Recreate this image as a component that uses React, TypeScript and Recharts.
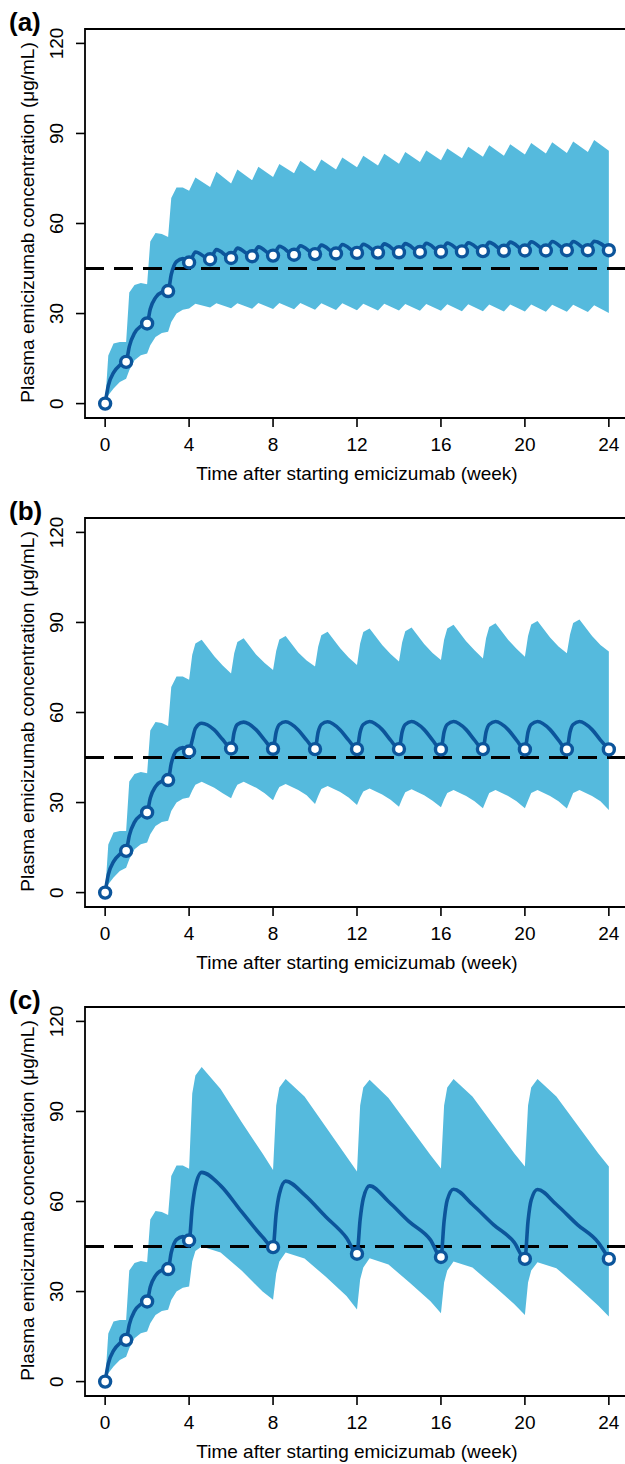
import { ComposedChart, Area, Line, XAxis, YAxis, ReferenceLine, ReferenceArea } from 'recharts';

// loading phase (3 mg/kg QW, weeks 0-4), same in all three panels
const loadWeeks = [0, 0.15, 0.4, 0.7, 1, 1.15, 1.4, 1.7, 2, 2.15, 2.4, 2.7, 3, 3.15, 3.4, 3.7, 4];
const loadUpper = [0, 16, 20, 20.5, 20.5, 37, 39.5, 40.2, 39.8, 54, 56.8, 56.5, 55.5, 68.5, 72, 72, 70.9];
const loadLower = [0, 2.8, 5, 7.2, 8.3, 11.1, 14.4, 16.1, 16.7, 19.4, 22.2, 23.5, 23.9, 27.2, 30, 31.3, 31.7];
const loadMedian = [0, 6, 10.3, 12.8, 13.9, 19, 23.5, 25.8, 26.7, 31.5, 35.3, 37.1, 37.5, 43, 47.3, 48.3, 47];

// (a) 1.5 mg/kg QW
const aWeeks = [4.3, 5, 5.3, 6, 6.3, 7, 7.3, 8, 8.3, 9, 9.3, 10, 10.3, 11, 11.3, 12, 12.3, 13, 13.3, 14, 14.3, 15, 15.3, 16, 16.3, 17, 17.3, 18, 18.3, 19, 19.3, 20, 20.3, 21, 21.3, 22, 22.3, 23, 23.3, 24];
const aUpper = [75.3, 72.2, 77.2, 73.3, 78, 74.4, 78.9, 75.5, 79.8, 76.7, 80.9, 77.4, 81.3, 78, 82, 78.7, 82.6, 79.3, 83.2, 79.9, 83.8, 80.5, 84.3, 81.1, 85, 81.7, 85.6, 82.2, 86.1, 82.6, 86.4, 83, 86.8, 83.3, 87.1, 83.5, 87.3, 83.8, 87.8, 84.2];
const aLower = [33.3, 32, 33.4, 31.8, 33.4, 31.6, 33.5, 31.5, 33.5, 31.4, 33.5, 31.3, 33.4, 31.2, 33.4, 31.1, 33.3, 31, 33.3, 31, 33.2, 30.9, 33.2, 30.9, 33.1, 30.8, 33.1, 30.8, 33, 30.7, 33, 30.7, 33, 30.6, 32.9, 30.6, 32.9, 30.5, 32.8, 30.2];
const aMedian = [50.5, 48.1, 51.3, 48.5, 51.8, 49.1, 52.2, 49.3, 52.4, 49.6, 52.6, 49.8, 52.8, 50, 53, 50.2, 53.1, 50.3, 53.2, 50.4, 53.3, 50.5, 53.4, 50.6, 53.5, 50.7, 53.6, 50.8, 53.7, 50.9, 53.8, 51, 53.9, 51, 54, 51.1, 54, 51.1, 54.1, 51.1];
const aMarks = [0, 1, 2, 3, 4, 5, 6, 7, 8, 9, 10, 11, 12, 13, 14, 15, 16, 17, 18, 19, 20, 21, 22, 23, 24];

// (b) 3 mg/kg Q2W
const bWeeks = [
  4.15, 4.3, 4.6, 5.2, 5.6, 6, 6.15, 6.3, 6.6, 7.2, 7.6, 8, 8.15, 8.3, 8.6, 9.2, 9.6, 10,
  10.15, 10.3, 10.6, 11.2, 11.6, 12, 12.15, 12.3, 12.6, 13.2, 13.6, 14, 14.15, 14.3, 14.6, 15.2, 15.6, 16,
  16.15, 16.3, 16.6, 17.2, 17.6, 18, 18.15, 18.3, 18.6, 19.2, 19.6, 20, 20.15, 20.3, 20.6, 21.2, 21.6, 22,
  22.15, 22.3, 22.6, 23.2, 23.6, 24,
];
const bUpper = [
  79.2, 83, 84.2, 78.7, 75.7, 73, 79.7, 83.5, 84.7, 79.2, 76.5, 74.2, 80.5, 84.3, 85.5, 80, 77.3, 75.3,
  81.9, 85.7, 86.9, 81.4, 78.3, 75.8, 83, 86.8, 88, 82.5, 79.5, 77, 83.3, 87.1, 88.3, 82.8, 79.8, 77.5,
  84.2, 88, 89.2, 83.7, 80.7, 78, 84.7, 88.5, 89.7, 84.2, 81.2, 78.6, 85.5, 89.3, 90.5, 85, 82, 79.7,
  86, 89.8, 91, 85.5, 82.5, 80.3,
];
const bLower = [
  34, 35.9, 36.9, 34.9, 33.1, 31.4, 33.9, 35.9, 36.9, 34.9, 33.1, 30.8, 33.2, 35.2, 36.2, 34.2, 32.4, 29.5,
  32.2, 34.5, 35.5, 33.5, 31.7, 29.2, 31.7, 33.7, 34.7, 32.7, 30.9, 28.6, 31.2, 33.4, 34.4, 32.4, 30.6, 28.4,
  31, 33.2, 34.2, 32.2, 30.4, 28.1, 30.7, 33.2, 34.2, 32.2, 30.4, 28.1, 30.7, 33.2, 34.2, 32.2, 30.4, 28,
  30.6, 33.2, 34.2, 32.2, 30.4, 27.5,
];
const bMedian = [
  50.8, 54.7, 56.4, 54.2, 51, 48, 53.5, 56, 56.8, 54.2, 50.8, 47.9, 53.5, 56, 56.9, 54.2, 50.8, 47.8,
  53.5, 56, 56.9, 54.2, 50.8, 47.8, 53.5, 56, 57, 54.3, 50.8, 47.8, 53.5, 56, 57, 54.3, 50.8, 47.7,
  53.5, 56, 57, 54.3, 50.8, 47.8, 53.5, 56, 57, 54.3, 50.8, 47.7, 53.5, 56, 57, 54.3, 50.8, 47.7,
  53.5, 56, 57, 54.3, 50.8, 47.7,
];
const bMarks = [0, 1, 2, 3, 4, 6, 8, 10, 12, 14, 16, 18, 20, 22, 24];

// (c) 6 mg/kg Q4W
const cWeeks = [
  4.15, 4.3, 4.6, 5.5, 6.5, 7.5, 8, 8.15, 8.3, 8.6, 9.5, 10.5, 11.5, 12, 12.15, 12.3, 12.6, 13.5, 14.5, 15.5, 16,
  16.15, 16.3, 16.6, 17.5, 18.5, 19.5, 20, 20.15, 20.3, 20.6, 21.5, 22.5, 23.5, 24,
];
const cUpper = [
  96, 102, 104.8, 97.5, 86.5, 76, 70.5, 92, 98, 100.8, 95, 85, 75, 70, 92, 98, 100.6, 94.5, 85, 75.5, 71,
  92, 98, 100.8, 95, 85.5, 76, 71.7, 92, 98, 100.8, 95, 85.5, 76, 71.7,
];
const cLower = [
  40, 43.5, 45, 43, 37, 30, 27.3, 36, 40, 43, 41, 35, 28.5, 24, 34, 38, 41.1, 39, 33, 26.8, 22.8,
  33, 37, 40, 38, 32, 25.8, 22.2, 33, 37, 39.8, 37.8, 31.7, 25.3, 21.7,
];
const cMedian = [
  58, 65, 69.7, 65.3, 56.6, 48.2, 44.8, 56, 62.5, 66.8, 62.2, 55, 47.9, 42.6, 54, 61, 65.2, 60, 53.2, 47.2, 41.5,
  53.5, 60.5, 64.1, 59, 52.3, 46.3, 40.9, 53.5, 60.5, 64, 59, 52.3, 46.3, 40.9,
];
const cMarks = [0, 1, 2, 3, 4, 8, 12, 16, 20, 24];

const weekTicks = [0, 4, 8, 12, 16, 20, 24];
const concTicks = [0, 30, 60, 90, 120];
const target = 45;

const BAND = '#55badd';
const LINE = '#0c559b';
const FONT = '"Liberation Sans", Arial, sans-serif';

function buildRows(weeks: number[], lower: number[], upper: number[], median: number[]) {
  const w = [...loadWeeks, ...weeks];
  const lo = [...loadLower, ...lower];
  const hi = [...loadUpper, ...upper];
  const md = [...loadMedian, ...median];
  return w.map((week, i) => ({ week, band: [lo[i], hi[i]], median: md[i] }));
}

const panels = [
  { tag: '(a)', rows: buildRows(aWeeks, aLower, aUpper, aMedian), marks: aMarks },
  { tag: '(b)', rows: buildRows(bWeeks, bLower, bUpper, bMedian), marks: bMarks },
  { tag: '(c)', rows: buildRows(cWeeks, cLower, cUpper, cMedian), marks: cMarks },
];

const YTick = (props: any) => {
  const { x, y, payload } = props;
  const bx = x - 11;
  return (
    <text x={bx} y={y} transform={`rotate(-90, ${bx}, ${y})`} textAnchor="middle" fontSize={19} fill="#000" fontFamily={FONT}>
      {payload.value}
    </text>
  );
};

function Panel({ tag, rows, marks }: { tag: string; rows: any[]; marks: number[] }) {
  const renderDot = (p: any) => {
    if (!marks.includes(p.payload.week)) return <g key={p.index} />;
    return <circle key={p.index} cx={p.cx} cy={p.cy} r={5.5} fill="#fff" stroke={LINE} strokeWidth={3.4} />;
  };
  return (
    <div style={{ position: 'relative', width: 640, height: 489 }}>
      <ComposedChart width={640} height={489} data={rows} margin={{ top: 29, right: 11, bottom: 11, left: 25 }}>
        <XAxis
          type="number"
          dataKey="week"
          domain={[-0.96, 24.96]}
          ticks={weekTicks}
          interval={0}
          allowDataOverflow
          axisLine={false}
          tickLine={{ stroke: '#000', strokeWidth: 1.6 }}
          tickSize={9}
          tickMargin={11}
          tick={{ fill: '#000', fontSize: 19, fontFamily: FONT }}
          height={60}
        />
        <YAxis
          type="number"
          domain={[-4.8, 124.8]}
          ticks={concTicks}
          interval={0}
          allowDataOverflow
          axisLine={false}
          tickLine={{ stroke: '#000', strokeWidth: 1.6 }}
          tickSize={9}
          width={60}
          tick={<YTick />}
        />
        <Area dataKey="band" type="linear" fill={BAND} fillOpacity={1} stroke="none" isAnimationActive={false} />
        <ReferenceLine y={target} stroke="#000" strokeWidth={3} strokeDasharray="19 10" />
        <Line
          dataKey="median"
          type="monotone"
          stroke={LINE}
          strokeWidth={3.6}
          dot={renderDot}
          activeDot={false}
          isAnimationActive={false}
        />
        <ReferenceArea x1={-0.96} x2={24.96} y1={-4.8} y2={124.8} fill="none" stroke="#000" strokeWidth={1.8} />
      </ComposedChart>
      <svg width={640} height={489} style={{ position: 'absolute', left: 0, top: 0, pointerEvents: 'none' }}>
        <text x={9} y={31} fontSize={26} fontWeight="bold" fontFamily={FONT} fill="#000">
          {tag}
        </text>
        <text x={357} y={480} textAnchor="middle" fontSize={19} fontFamily={FONT} fill="#000">
          Time after starting emicizumab (week)
        </text>
        <text transform="translate(34, 222.5) rotate(-90)" textAnchor="middle" fontSize={19} fontFamily={FONT} fill="#000">
          Plasma emicizumab concentration (μg/mL)
        </text>
      </svg>
    </div>
  );
}

export default function App() {
  return (
    <div style={{ width: 625, height: 1464, overflow: 'hidden', background: '#fff' }}>
      <style>{'body { margin: 0; }'}</style>
      {panels.map((p) => (
        <Panel key={p.tag} tag={p.tag} rows={p.rows} marks={p.marks} />
      ))}
    </div>
  );
}
